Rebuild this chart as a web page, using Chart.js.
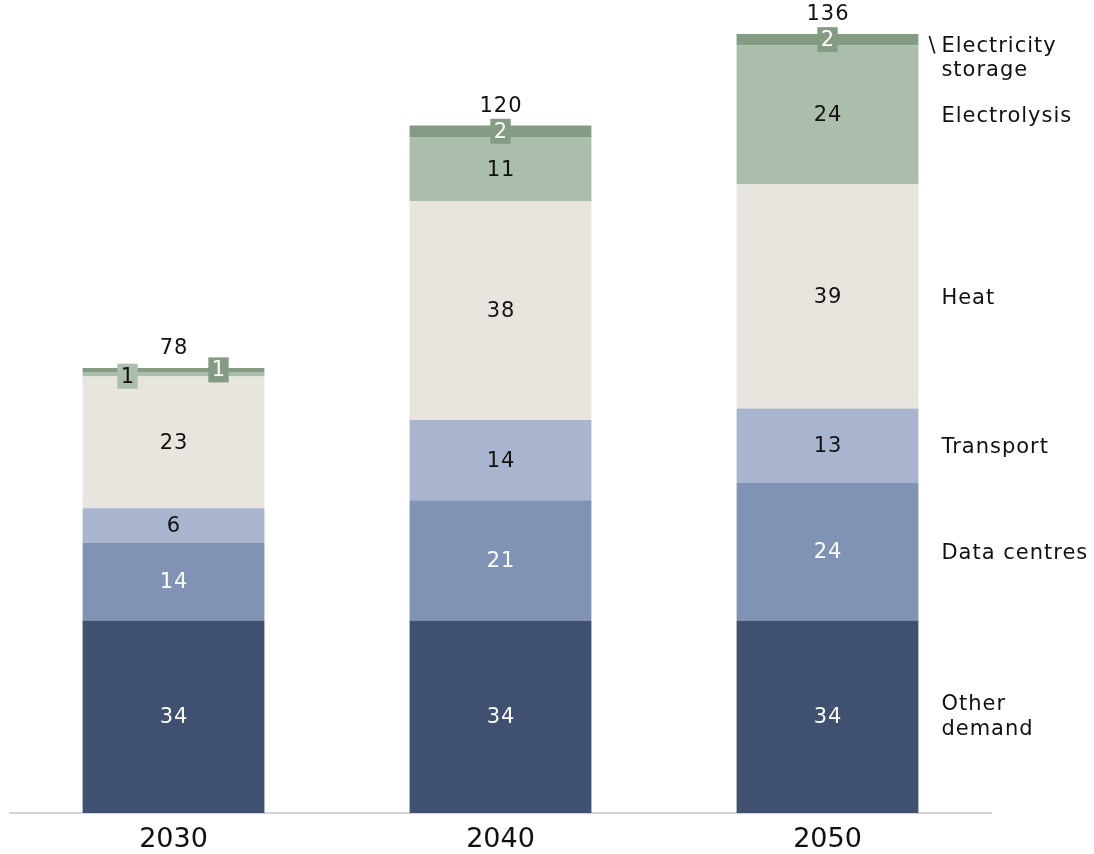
<!DOCTYPE html>
<html>
<head>
<meta charset="utf-8">
<script src="https://cdn.jsdelivr.net/npm/chart.js@4.4.1/dist/chart.umd.min.js"></script>
<style>
  html, body { margin: 0; padding: 0; background: #ffffff; }
  #wrap { width: 1094px; height: 854px; position: relative; }
</style>
</head>
<body>
<div id="wrap"><canvas id="myChart"></canvas></div>
<script>
// values (TWh)
const years = ['2030', '2040', '2050'];
const otherDemand = [33.6, 33.6, 33.6];
const dataCentres = [13.6, 21, 24];
const transport = [6, 14, 13];
const heat = [23, 38.2, 39.2];
const electrolysis = [0.8, 11.2, 24.2];
const electricityStorage = [0.7, 2, 2];
const totals = [78, 120, 136];

const seriesNames = ['Other demand', 'Data centres', 'Transport', 'Heat', 'Electrolysis', 'Electricity storage'];
const seriesColors = ['#3f5070', '#8093b5', '#a9b5cf', '#e8e5de', '#abbdac', '#849c84'];
const labelColors = ['#ffffff', '#ffffff', '#111111', '#111111', '#111111', '#ffffff'];

const FONT = '"DejaVu Sans", Verdana, sans-serif';

// draws the values inside the bars, totals above and the series names on the right
const labelPlugin = {
    id: 'labelPlugin',
    afterDatasetsDraw(chart) {
        const ctx = chart.ctx;
        ctx.save();
        ctx.font = '21px ' + FONT;
        ctx.letterSpacing = '1px';
        ctx.textAlign = 'center';
        ctx.textBaseline = 'middle';

        chart.data.datasets.forEach((ds, di) => {
            const meta = chart.getDatasetMeta(di);
            meta.data.forEach((bar, i) => {
                const v = ds.data[i];
                const txt = String(Math.round(v));
                const midY = (bar.y + bar.base) / 2;
                if (v <= 2.5) {
                    // small segments get a little box
                    let x = bar.x;
                    if (i === 0) x = di === 4 ? bar.x - 46 : bar.x + 45;
                    const w = ctx.measureText(txt).width + 6;
                    const h = 25;
                    const y = i === 0 ? (di === 4 ? midY + 2 : midY) : midY;
                    ctx.fillStyle = seriesColors[di];
                    ctx.fillRect(x - w / 2, y - h / 2, w, h);
                    ctx.fillStyle = labelColors[di];
                    ctx.fillText(txt, x + 0.5, y + 1);
                } else {
                    ctx.fillStyle = labelColors[di];
                    ctx.fillText(txt, bar.x + 0.5, midY + 1);
                }
            });
        });

        // totals
        const topMeta = chart.getDatasetMeta(chart.data.datasets.length - 1);
        ctx.fillStyle = '#111111';
        topMeta.data.forEach((bar, i) => {
            ctx.fillText(String(totals[i]), bar.x + 0.5, bar.y - 19);
        });

        // series names next to the last bar
        const last = years.length - 1;
        ctx.textAlign = 'left';
        chart.data.datasets.forEach((ds, di) => {
            const bar = chart.getDatasetMeta(di).data[last];
            const x = bar.x + bar.width / 2 + 23;
            const midY = (bar.y + bar.base) / 2;
            ctx.fillStyle = '#111111';
            const name = seriesNames[di];
            if (di === 5) {
                ctx.fillText('Electricity', x, midY + 7);
                ctx.fillText('storage', x, midY + 31);
                ctx.letterSpacing = '0px';
                ctx.fillText('\\', x - 13, midY + 7);
                ctx.letterSpacing = '1px';
            } else if (di === 0) {
                ctx.fillText('Other', x, midY - 12);
                ctx.fillText('demand', x, midY + 13);
            } else {
                ctx.fillText(name, x, midY + 2);
            }
        });
        ctx.restore();
    }
};

const seriesData = [otherDemand, dataCentres, transport, heat, electrolysis, electricityStorage];
const datasets = seriesData.map((d, i) => ({
    label: seriesNames[i],
    data: d,
    backgroundColor: seriesColors[i],
    borderWidth: 0,
    categoryPercentage: 1,
    barPercentage: 0.556
}));

const ctx = document.getElementById('myChart').getContext('2d');
const myChart = new Chart(ctx, {
    type: 'bar',
    data: { labels: years, datasets: datasets },
    options: {
        responsive: true,
        maintainAspectRatio: false,
        animation: false,
        layout: { padding: { left: 10, right: 103, top: 11, bottom: 0 } },
        plugins: {
            legend: { display: false },
            tooltip: { enabled: false }
        },
        scales: {
            x: {
                stacked: true,
                grid: { display: false, drawTicks: false },
                border: { display: true, color: '#d3d3d3', width: 2 },
                ticks: {
                    color: '#111111',
                    font: { family: FONT, size: 27 },
                    padding: 11
                },
                afterFit(scale) { scale.height = 41; }
            },
            y: {
                stacked: true,
                display: false,
                min: 0,
                max: 140
            }
        }
    },
    plugins: [labelPlugin]
});
</script>
</body>
</html>
